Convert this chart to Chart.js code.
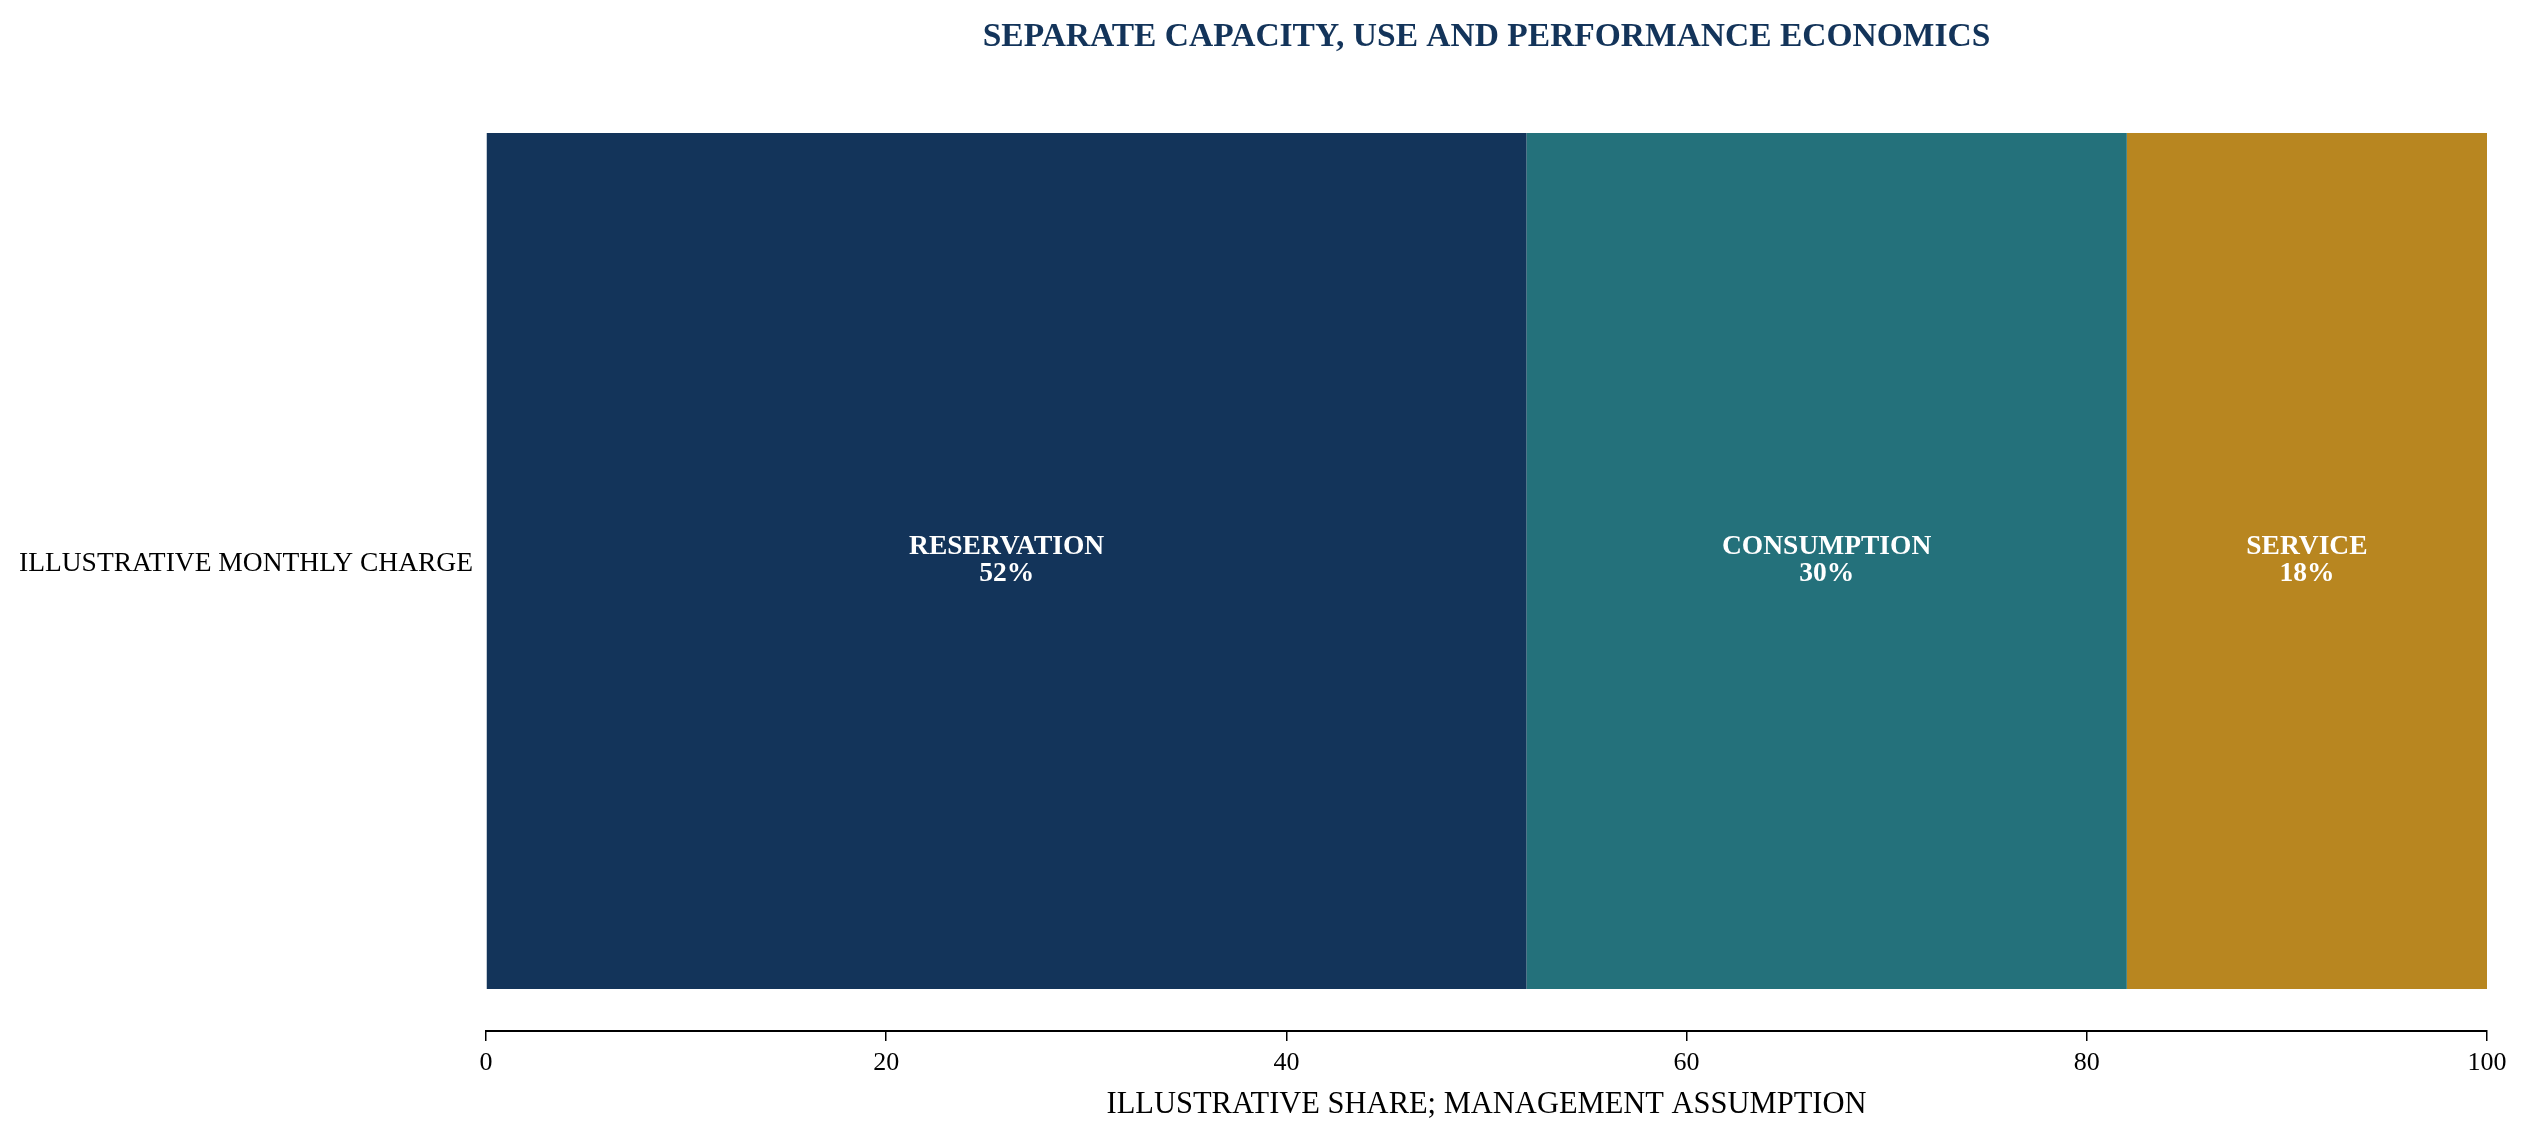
<!DOCTYPE html>
<html>
<head>
<meta charset="utf-8">
<script src="https://cdn.jsdelivr.net/npm/chart.js@4.4.1/dist/chart.umd.min.js"></script>
<style>
  body { margin: 0; background: #fff; }
  canvas { display: block; }
</style>
</head>
<body>
<canvas id="grafico" width="2529" height="1140"></canvas>
<script>
const categorias = ["ILLUSTRATIVE MONTHLY CHARGE"];
const componentes = ["RESERVATION", "CONSUMPTION", "SERVICE"];
const participacion = [52, 30, 18];
const colores = ["#13345a", "#24717b", "#b88620"];
const ticksX = [0, 20, 40, 60, 80, 100];

const titulo = "SEPARATE CAPACITY, USE AND PERFORMANCE ECONOMICS";
const tituloEjeX = "ILLUSTRATIVE SHARE; MANAGEMENT ASSUMPTION";
const fuente = "'Liberation Serif', 'Times New Roman', serif";

// titulo centrado sobre el area del grafico, como en matplotlib
const tituloPlugin = {
  id: "tituloPlugin",
  afterDraw(chart) {
    const ctx = chart.ctx;
    const area = chart.chartArea;
    ctx.save();
    ctx.font = "bold 33.5px " + fuente;
    ctx.fillStyle = "#13345a";
    ctx.textAlign = "center";
    ctx.textBaseline = "middle";
    ctx.fillText(titulo, (area.left + area.right) / 2, 37);
    ctx.restore();
  },
};

// etiquetas dentro de cada segmento
const etiquetasPlugin = {
  id: "etiquetasPlugin",
  afterDatasetsDraw(chart) {
    const ctx = chart.ctx;
    ctx.save();
    ctx.font = "bold 27.5px " + fuente;
    ctx.fillStyle = "#ffffff";
    ctx.textAlign = "center";
    ctx.textBaseline = "middle";
    chart.data.datasets.forEach((ds, i) => {
      chart.getDatasetMeta(i).data.forEach((bar, j) => {
        const cx = (bar.x + bar.base) / 2;
        ctx.fillText(ds.label, cx, bar.y - 14);
        ctx.fillText(ds.data[j] + "%", cx, bar.y + 13);
      });
    });
    ctx.restore();
  },
};

const datasets = componentes.map((nombre, i) => ({
  label: nombre,
  data: [participacion[i]],
  backgroundColor: colores[i],
  borderWidth: 0,
  barPercentage: 0.9106,
  categoryPercentage: 1,
}));

new Chart(document.getElementById("grafico"), {
  type: "bar",
  data: { labels: categorias, datasets: datasets },
  plugins: [tituloPlugin, etiquetasPlugin],
  options: {
    indexAxis: "y",
    responsive: false,
    animation: false,
    layout: { padding: { top: 91, right: 42, bottom: 0, left: 0 } },
    plugins: {
      legend: { display: false },
      title: { display: false },
      tooltip: { enabled: false },
    },
    scales: {
      x: {
        stacked: true,
        min: 0,
        max: 100,
        afterBuildTicks: (scale) => {
          scale.ticks = ticksX.map((v) => ({ value: v }));
        },
        afterFit: (scale) => {
          scale.height = 109;
        },
        border: { display: true, color: "#000", width: 2 },
        grid: {
          display: true,
          drawOnChartArea: false,
          drawTicks: true,
          tickLength: 10,
          color: "#000",
          lineWidth: 1.5,
        },
        ticks: {
          color: "#000",
          font: { family: fuente, size: 26 },
          padding: 7,
          maxRotation: 0,
        },
        title: {
          display: true,
          text: tituloEjeX,
          color: "#000",
          font: { family: fuente, size: 30.5 },
          padding: { top: 4, bottom: 17 },
        },
      },
      y: {
        stacked: true,
        afterFit: (scale) => {
          scale.width = 486;
        },
        border: { display: false },
        grid: { display: false, drawTicks: false },
        ticks: {
          color: "#000",
          font: { family: fuente, size: 27.5 },
          padding: 13,
          labelOffset: 3,
        },
      },
    },
  },
});
</script>
</body>
</html>
